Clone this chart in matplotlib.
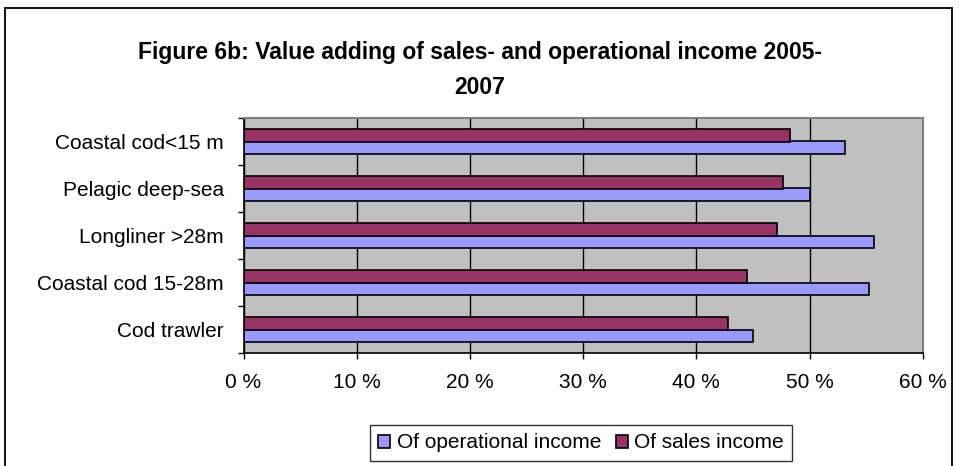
import matplotlib.pyplot as plt
import numpy as np
from matplotlib.patches import Rectangle
from matplotlib.ticker import FixedLocator, NullFormatter

plt.rcParams['font.family'] = ['Liberation Sans', 'DejaVu Sans']

# vessel groups, listed bottom to top
groups = ["Cod trawler", "Coastal cod 15-28m", "Longliner >28m",
          "Pelagic deep-sea", "Coastal cod<15 m"]
operational = [45.0, 55.3, 55.7, 50.0, 53.1]
sales = [42.8, 44.5, 47.1, 47.7, 48.3]
xticks = [0, 10, 20, 30, 40, 50, 60]

fig = plt.figure(figsize=(9.59, 4.66), dpi=100)
fig.patch.set_facecolor("white")

# outer chart frame
fig.patches.append(Rectangle((5 / 959, -0.05), 947 / 959, 1.05 - 8 / 466,
                             transform=fig.transFigure, fill=False,
                             edgecolor="black", linewidth=1.3))

ax = fig.add_axes([243.5 / 959, 1 - 353 / 466, (922.7 - 243.5) / 959, (353 - 118) / 466])
ax.set_facecolor("#C0C0C0")

y = np.arange(len(groups))
h = 0.27
ax.barh(y - h / 2, operational, height=h, color="#9999FF", edgecolor="black",
        linewidth=1.2, label="Of operational income", zorder=3)
ax.barh(y + h / 2, sales, height=h, color="#993366", edgecolor="black",
        linewidth=1.2, label="Of sales income", zorder=3)

ax.set_xlim(0, 60)
ax.set_ylim(-0.5, len(groups) - 0.5)
ax.set_xticks(xticks)
ax.set_xticklabels([f"{t} %" for t in xticks], fontsize=15)
ax.xaxis.grid(True, color="black", linewidth=1, zorder=1)
ax.set_axisbelow(True)

# category labels centred, ticks on the boundaries
ax.set_yticks(y)
ax.set_yticklabels(groups, fontsize=15)
ax.tick_params(axis="y", which="major", length=0, pad=14)
ax.yaxis.set_minor_locator(FixedLocator(np.arange(-0.5, len(groups), 1)))
ax.yaxis.set_minor_formatter(NullFormatter())
ax.tick_params(axis="y", which="minor", length=4.5, width=1, direction="out")
ax.tick_params(axis="x", length=4.5, width=1, direction="out", pad=10)

for side in ["top", "right"]:
    ax.spines[side].set_color("#808080")
    ax.spines[side].set_linewidth(1.5)
for side in ["left", "bottom"]:
    ax.spines[side].set_color("black")
    ax.spines[side].set_linewidth(1.2)

fig.text(0.5, 1 - 53 / 466, "Figure 6b: Value adding of sales- and operational income 2005-",
         ha="center", va="center", fontsize=16.5, fontweight="bold")
fig.text(0.5, 1 - 88 / 466, "2007", ha="center", va="center",
         fontsize=16.5, fontweight="bold")

leg = fig.legend(loc="center", bbox_to_anchor=(581 / 959, 1 - 443 / 466), ncol=2,
                 fontsize=15, frameon=True, fancybox=False, edgecolor="black",
                 handlelength=0.6, handleheight=0.6, handletextpad=0.3,
                 columnspacing=0.7, borderpad=0.4)
leg.get_frame().set_linewidth(1)

fig.savefig("out.png", dpi=100)
